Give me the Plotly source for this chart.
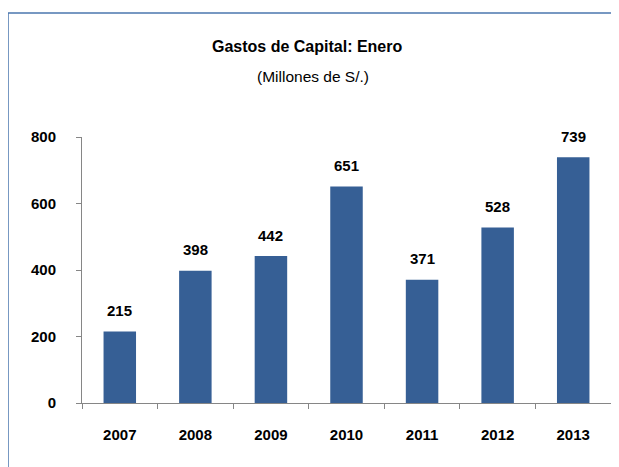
import plotly.graph_objects as go

years = ["2007", "2008", "2009", "2010", "2011", "2012", "2013"]
gastos = [215, 398, 442, 651, 371, 528, 739]

# the page body adds an 8px margin, so the figure is 8px smaller and shifted
OFF = 8
W, H = 619 - OFF, 467 - OFF
L, R, T, B = 82 - OFF, 8, 137 - OFF, 64
fnt = "Liberation Sans Narrow, Liberation Sans, Arial"


def px(x):
    return (x - OFF - L) / (W - L - R)


def py(y):
    return (H - B - (y - OFF)) / (H - T - B)


fig = go.Figure(go.Bar(
    x=years, y=gastos, marker=dict(color="#365F95", line=dict(width=0)),
    width=0.43,
))

# etiquetas de datos (en eje de categorias se usa el indice)
for i, v in enumerate(gastos):
    fig.add_annotation(x=i, y=v, text="<b>%d</b>" % v, showarrow=False, yshift=21,
                       font=dict(size=15, color="black", family=fnt))

fig.update_layout(
    width=W, height=H, margin=dict(l=L, r=R, t=T, b=B, autoexpand=False),
    paper_bgcolor="white", plot_bgcolor="white", showlegend=False,
    font=dict(family=fnt, color="black"),
    xaxis=dict(type="category", showline=True, linecolor="#868686", ticks="outside",
               tickson="boundaries", ticklen=5, tickcolor="#868686", showgrid=False,
               ticklabelstandoff=18, tickangle=0, automargin=False,
               tickfont=dict(size=15, family=fnt), tickprefix="<b>", ticksuffix="</b>"),
    yaxis=dict(range=[0, 800], dtick=200, showline=True, linecolor="#868686", ticks="outside",
               ticklen=5, tickcolor="#868686", showgrid=False, zeroline=False, ticklabelstandoff=17,
               automargin=False,
               tickfont=dict(size=15, family=fnt), tickprefix="<b>", ticksuffix="</b>"),
    shapes=[
        dict(type="line", xref="paper", yref="paper", x0=px(8), x1=px(W + 20), y0=py(13), y1=py(13),
             line=dict(color="#4A76AE", width=1.5)),
        dict(type="line", xref="paper", yref="paper", x0=px(8), x1=px(8), y0=py(13), y1=py(H + 20),
             line=dict(color="#4A76AE", width=1.5)),
    ],
)
fig.add_annotation(text="<b>Gastos de Capital: Enero</b>", xref="paper", yref="paper",
                   x=px(307), y=py(46), xanchor="center", yanchor="middle", showarrow=False,
                   font=dict(size=16, family=fnt))
fig.add_annotation(text="(Millones de S/.)", xref="paper", yref="paper",
                   x=px(313), y=py(76), xanchor="center", yanchor="middle", showarrow=False,
                   font=dict(size=15.5, family=fnt))

fig.write_html("out.html")
